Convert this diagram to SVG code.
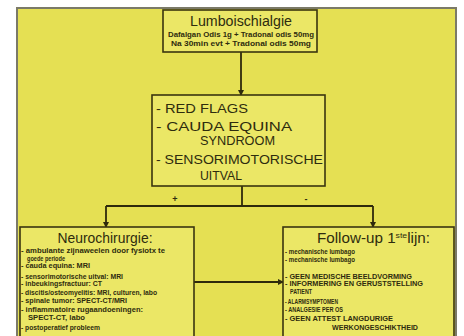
<svg xmlns="http://www.w3.org/2000/svg" width="464" height="336" viewBox="0 0 464 336">
<defs>
<style>
.box{fill:#ebe766;stroke:#3a3510;stroke-width:1.6}
.t{font-family:"Liberation Sans",Arial,sans-serif;fill:#2e2c0e}
.s{font-size:6.5px;font-weight:bold}
.m{font-size:13px}
.h{font-size:14px}
.ln{stroke:#2e2a0c;stroke-width:1.8;fill:none}
</style>
<marker id="ah" markerWidth="6" markerHeight="6" refX="5" refY="3" orient="auto" markerUnits="userSpaceOnUse">
<path d="M0,0 L6,3 L0,6 z" fill="#2e2a0c"/>
</marker>
</defs>
<rect x="0" y="0" width="464" height="336" fill="#ffffff"/>
<rect x="17" y="8" width="439" height="340" fill="#e5e053" stroke="#7b7a68" stroke-width="2"/>

<g id="connectors">
<line class="ln" x1="241" y1="52" x2="241" y2="95" marker-end="url(#ah)"/>
<polyline class="ln" points="242,186 242,206"/>
<polyline class="ln" points="106,206 373,206"/>
<line class="ln" x1="106" y1="206" x2="106" y2="227" marker-end="url(#ah)"/>
<line class="ln" x1="373" y1="206" x2="373" y2="227" marker-end="url(#ah)"/>
<line class="ln" x1="194" y1="282" x2="283" y2="282" marker-end="url(#ah)"/>
<text class="t" x="175" y="202" font-size="9" font-weight="bold" text-anchor="middle">+</text>
<text class="t" x="306" y="202" font-size="9" font-weight="bold" text-anchor="middle">-</text>
</g>

<g id="lumboischialgie">
<rect class="box" x="163" y="10" width="154" height="42"/>
<text class="t h" x="241" y="26" text-anchor="middle" textLength="102" lengthAdjust="spacingAndGlyphs">Lumboischialgie</text>
<text class="t s" x="241" y="37" text-anchor="middle" textLength="146" lengthAdjust="spacingAndGlyphs">Dafalgan Odis 1g + Tradonal odis 50mg</text>
<text class="t s" x="241" y="46" text-anchor="middle" textLength="140" lengthAdjust="spacingAndGlyphs">Na 30min evt + Tradonal odis 50mg</text>
</g>

<g id="redflags">
<rect class="box" x="152" y="95" width="173" height="91"/>
<text class="t m" x="156" y="113" textLength="92" lengthAdjust="spacingAndGlyphs">- RED FLAGS</text>
<text class="t m" x="156" y="131" textLength="136" lengthAdjust="spacingAndGlyphs">- CAUDA EQUINA</text>
<text class="t m" x="200" y="145" textLength="75" lengthAdjust="spacingAndGlyphs">SYNDROOM</text>
<text class="t m" x="156" y="164" textLength="167" lengthAdjust="spacingAndGlyphs">- SENSORIMOTORISCHE</text>
<text class="t m" x="200" y="180" textLength="42" lengthAdjust="spacingAndGlyphs">UITVAL</text>
</g>

<g id="neurochirurgie">
<rect class="box" x="20" y="227" width="174" height="125"/>
<text class="t h" x="105" y="243" text-anchor="middle" textLength="95" lengthAdjust="spacingAndGlyphs">Neurochirurgie:</text>
<text class="t s" x="21" y="253" textLength="144" lengthAdjust="spacingAndGlyphs">- ambulante zijnaweelen door fysiotx te</text>
<text class="t s" x="27" y="261" textLength="38" lengthAdjust="spacingAndGlyphs">goede periode</text>
<text class="t s" x="21" y="268" textLength="69" lengthAdjust="spacingAndGlyphs">- cauda equina: MRI</text>
<text class="t s" x="21" y="279" textLength="102" lengthAdjust="spacingAndGlyphs">- sensorimotorische uitval: MRI</text>
<text class="t s" x="21" y="286" textLength="81" lengthAdjust="spacingAndGlyphs">- inbeukingsfractuur: CT</text>
<text class="t s" x="21" y="295" textLength="136" lengthAdjust="spacingAndGlyphs">- discitis/osteomyelitis: MRI, culturen, labo</text>
<text class="t s" x="21" y="303" textLength="106" lengthAdjust="spacingAndGlyphs">- spinale tumor: SPECT-CT/MRI</text>
<text class="t s" x="21" y="312" textLength="122" lengthAdjust="spacingAndGlyphs">- inflammatoire rugaandoeningen:</text>
<text class="t s" x="28" y="320" textLength="57" lengthAdjust="spacingAndGlyphs">SPECT-CT, labo</text>
<text class="t s" x="21" y="330" textLength="79" lengthAdjust="spacingAndGlyphs">- postoperatief probleem</text>
</g>

<g id="followup">
<rect class="box" x="283" y="227" width="171" height="125"/>
<text class="t h" x="317" y="243" textLength="113" lengthAdjust="spacingAndGlyphs">Follow-up 1<tspan font-size="8" dy="-5">ste</tspan><tspan dy="5">lijn:</tspan></text>
<text class="t s" x="285" y="254" textLength="70" lengthAdjust="spacingAndGlyphs">- mechanische   lumbago</text>
<text class="t s" x="285" y="262" textLength="70" lengthAdjust="spacingAndGlyphs">- mechanische   lumbago</text>
<text class="t s" x="285" y="279" textLength="127" lengthAdjust="spacingAndGlyphs">- GEEN MEDISCHE BEELDVORMING</text>
<text class="t s" x="285" y="286" textLength="138" lengthAdjust="spacingAndGlyphs">- INFORMERING EN GERUSTSTELLING</text>
<text class="t s" x="290" y="294" textLength="22" lengthAdjust="spacingAndGlyphs">PATIENT</text>
<text class="t s" x="285" y="304" textLength="53" lengthAdjust="spacingAndGlyphs">- ALARMSYMPTOMEN</text>
<text class="t s" x="285" y="312" textLength="58" lengthAdjust="spacingAndGlyphs">- ANALGESIE PER OS</text>
<text class="t s" x="285" y="321" textLength="108" lengthAdjust="spacingAndGlyphs">- GEEN ATTEST LANGDURIGE</text>
<text class="t s" x="332" y="330" textLength="86" lengthAdjust="spacingAndGlyphs">WERKONGESCHIKTHEID</text>
</g>
</svg>
